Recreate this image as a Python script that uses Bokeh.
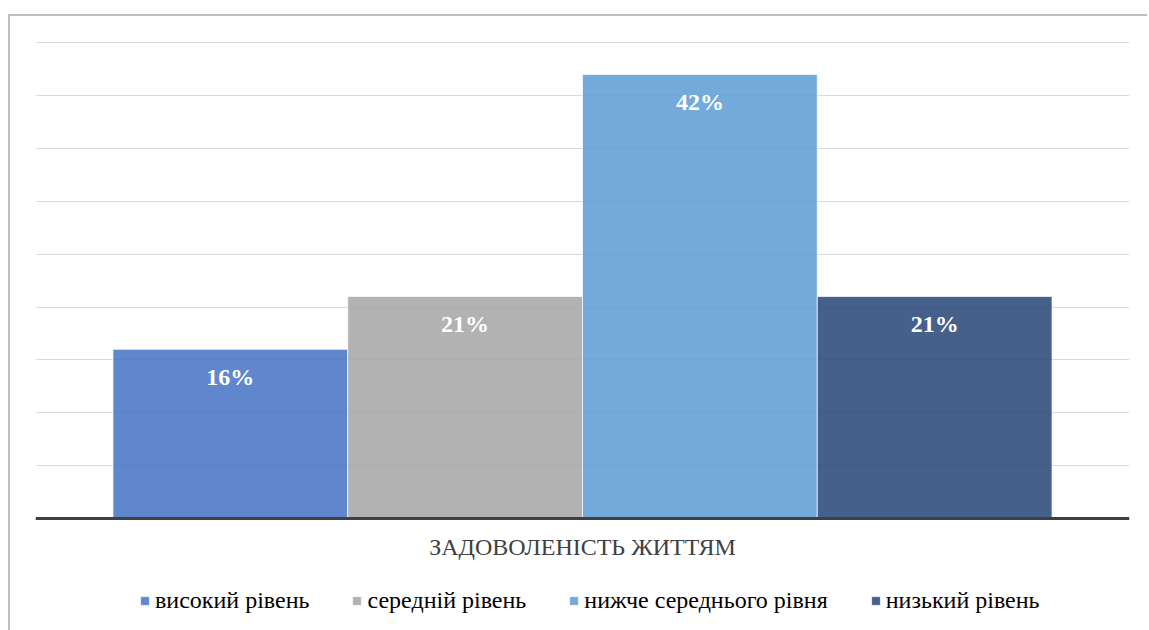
from bokeh.plotting import figure
from bokeh.models import FactorRange, Range1d, ColumnDataSource, FixedTicker, Legend
from bokeh.transform import dodge
from bokeh.core.properties import value
from bokeh.embed import file_html
from bokeh.resources import INLINE

category = ["ЗАДОВОЛЕНІСТЬ ЖИТТЯМ"]
series_names = ["високий рівень", "середній рівень", "нижче середнього рівня", "низький рівень"]
series_values = [16, 21, 42, 21]
colors = ["#4472C4", "#A5A5A5", "#5B9BD5", "#264478"]
grid_ticks = [5, 10, 15, 20, 25, 30, 35, 40, 45]

FONT = "'Liberation Serif', 'Times New Roman', serif"

p = figure(x_range=FactorRange(*category), y_range=Range1d(-10.6, 45.5),
           frame_width=1094, frame_height=593, output_backend="svg", toolbar_location=None,
           min_border_left=25, min_border_right=18, min_border_top=21, min_border_bottom=0)
p.styles = {"border-left": "2px solid #BFBFBF", "border-top": "2px solid #BFBFBF"}
p.margin = (14, 0, 0, 8)
p.outline_line_color = None

data = {"cat": category}
for i, v in enumerate(series_values):
    data[f"v{i}"] = [v]
    data[f"t{i}"] = [f"{v}%"]
src = ColumnDataSource(data)

bw = 0.2146
n = len(series_values)
items = []
for i in range(n):
    off = (i - (n - 1) / 2) * bw
    r = p.vbar(x=dodge("cat", off, range=p.x_range), top=f"v{i}", bottom=0, width=bw, source=src,
               fill_color=colors[i], fill_alpha=0.85, line_color="white", line_alpha=0.7, line_width=1)
    items.append((series_names[i], [r]))
    p.text(x=dodge("cat", off, range=p.x_range), y=f"v{i}", text=f"t{i}", source=src,
           text_font=value(FONT), text_font_size="24px", text_font_style="bold",
           text_color="white", text_align="center", text_baseline="top", y_offset=15)

p.yaxis.visible = False
p.ygrid.ticker = FixedTicker(ticks=grid_ticks)
p.ygrid.grid_line_color = "#D9D9D9"
p.ygrid.grid_line_width = 1
p.xgrid.grid_line_color = None

ax = p.xaxis[0]
ax.fixed_location = 0
ax.axis_line_color = "#404040"
ax.axis_line_width = 3
ax.major_tick_line_color = None
ax.minor_tick_line_color = None
ax.major_tick_out = 0
ax.major_tick_in = 0
ax.major_label_text_font = FONT
ax.major_label_text_font_size = "24px"
ax.major_label_text_color = "#404040"
ax.major_label_standoff = 16

legend = Legend(items=items, orientation="horizontal", location=(104, 16),
                label_text_font=FONT, label_text_font_size="24px", label_text_color="#000000",
                glyph_width=11, glyph_height=11, label_standoff=5, spacing=42,
                border_line_color=None, background_fill_alpha=0, padding=0, margin=0)
p.add_layout(legend, "center")

open("out.html", "w").write(file_html(p, INLINE))
